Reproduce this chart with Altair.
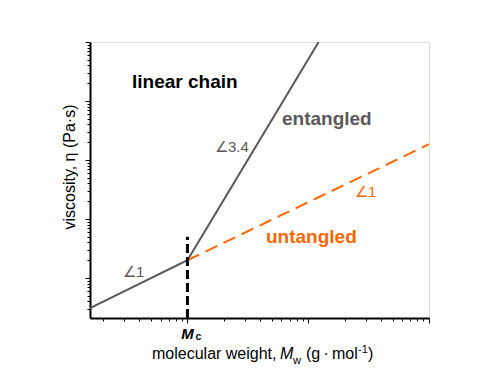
import altair as alt
import pandas as pd

FONT = "Liberation Sans"
GRAY = "#595959"
ORANGE = "#FF6600"

# ---- tick values (log axes, no labels) ----
x_major = [10000, 100000, 1000000]
x_minor = [2000, 3000, 4000, 5000, 6000, 7000, 8000, 9000,
           20000, 30000, 40000, 50000, 60000, 70000, 80000, 90000,
           200000, 300000, 400000, 500000, 600000, 700000, 800000, 900000]
y_major = [10, 100, 1000, 10000, 100000]
y_minor = [3, 4, 5, 6, 7, 8, 9,
           20, 30, 40, 50, 60, 70, 80, 90,
           200, 300, 400, 500, 600, 700, 800, 900,
           2000, 3000, 4000, 5000, 6000, 7000, 8000, 9000,
           20000, 30000, 40000, 50000, 60000, 70000, 80000, 90000]

# ---- series ----
gray_M = [1560, 10000, 122000]
gray_eta = [3.1, 20, 100000]
orange_M = [10000, 1000000]
orange_eta = [20, 1850]
mc_M = [10000]
mc_eta_low = [2.1]
mc_eta_high = [50]

# ---- annotations (data coordinates) ----
bold_text = ["linear chain", "entangled", "untangled"]
bold_M = [3475, 60600, 44700]
bold_eta = [16600, 3920, 39.2]
bold_color = ["#000000", GRAY, ORANGE]

slope_text = ["∠3.4", "∠1", "∠1"]
slope_M = [16900, 2920, 243800]
slope_eta = [1367, 10.4, 236]
slope_color = [GRAY, GRAY, ORANGE]


def make_axis(major, allv):
    return alt.Axis(
        values=allv, labels=False, title=None, grid=False,
        domainColor="black", domainWidth=2,
        tickColor="black", tickWidth=1,
        tickSize={"condition": {"test": f"indexof({major}, datum.value) >= 0", "value": 5}, "value": 3},
    )


xs = alt.Scale(type="log", domain=[1560, 1000000], nice=False)
ys = alt.Scale(type="log", domain=[2.1, 100000], nice=False)
X = alt.X("M:Q", scale=xs, axis=make_axis(x_major, sorted(x_major + x_minor)))
Y = alt.Y("eta:Q", scale=ys, axis=make_axis(y_major, sorted(y_major + y_minor)))

gray = alt.Chart(pd.DataFrame({"M": gray_M, "eta": gray_eta})).mark_line(
    color=GRAY, strokeWidth=2, clip=True).encode(x=X, y=Y)

orange = alt.Chart(pd.DataFrame({"M": orange_M, "eta": orange_eta})).mark_line(
    color=ORANGE, strokeWidth=2, strokeDash=[13, 7], clip=True).encode(x=X, y=Y)

mc = alt.Chart(pd.DataFrame({"M": mc_M, "eta": mc_eta_low, "eta2": mc_eta_high})).mark_rule(
    color="black", strokeWidth=3, strokeDash=[9, 4]).encode(x=X, y=Y, y2="eta2:Q")

bold_labels = alt.Chart(pd.DataFrame({"M": bold_M, "eta": bold_eta, "t": bold_text, "c": bold_color})).mark_text(
    font=FONT, fontSize=19, fontWeight="bold", align="left", baseline="alphabetic").encode(
    x=X, y=Y, text="t:N", color=alt.Color("c:N", scale=None))

slope_labels = alt.Chart(pd.DataFrame({"M": slope_M, "eta": slope_eta, "t": slope_text, "c": slope_color})).mark_text(
    font=FONT, fontSize=15, align="left", baseline="alphabetic").encode(
    x=X, y=Y, text="t:N", color=alt.Color("c:N", scale=None))

# Mc label under the axis at the Mc position
mc_M_label = alt.Chart(pd.DataFrame({"M": mc_M, "t": ["M"]})).mark_text(
    font=FONT, fontSize=15, fontWeight="bold", fontStyle="italic", align="center",
    baseline="alphabetic", color="black").encode(x=X, y=alt.value(297), text="t:N")
mc_c_label = alt.Chart(pd.DataFrame({"M": mc_M, "t": ["c"]})).mark_text(
    font=FONT, fontSize=10.5, fontWeight="bold", align="left", dx=8,
    baseline="alphabetic", color="black").encode(x=X, y=alt.value(298), text="t:N")

# axis titles built from pieces (rich text)
xt_text = ["molecular weight,", "M", "w", "(g\u2009·\u2009mol", "-1", ")"]
xt_x = [62, 190, 203, 216, 268, 278]
xt_y = [317, 317, 322, 317, 311, 317]
xt_size = [16, 16, 11, 16, 11, 16]
xt_style = ["normal", "italic", "normal", "normal", "normal", "normal"]

xtitle_layers = []
for t, xx, yy, sz, st in zip(xt_text, xt_x, xt_y, xt_size, xt_style):
    xtitle_layers.append(
        alt.Chart(pd.DataFrame({"t": [t]})).mark_text(
            font=FONT, fontSize=sz, fontStyle=st, align="left", baseline="alphabetic", color="black"
        ).encode(x=alt.value(xx), y=alt.value(yy), text="t:N")
    )

ytitle = alt.Chart(pd.DataFrame({"t": ["viscosity, η (Pa·s)"]})).mark_text(
    font=FONT, fontSize=16, angle=270, align="center", baseline="alphabetic", color="black"
).encode(x=alt.value(-15), y=alt.value(125), text="t:N")

chart = alt.layer(
    gray, orange, mc, bold_labels, slope_labels, mc_M_label, mc_c_label, ytitle, *xtitle_layers
).properties(
    width=339, height=276,
    autosize=alt.AutoSizeParams(type="none"),
    padding={"left": 82, "top": 34, "right": 50, "bottom": 52},
).configure_view(
    stroke="black", strokeWidth=2
).configure(font=FONT)

chart.save("out.html", embed_options={"renderer": "svg", "actions": False})
